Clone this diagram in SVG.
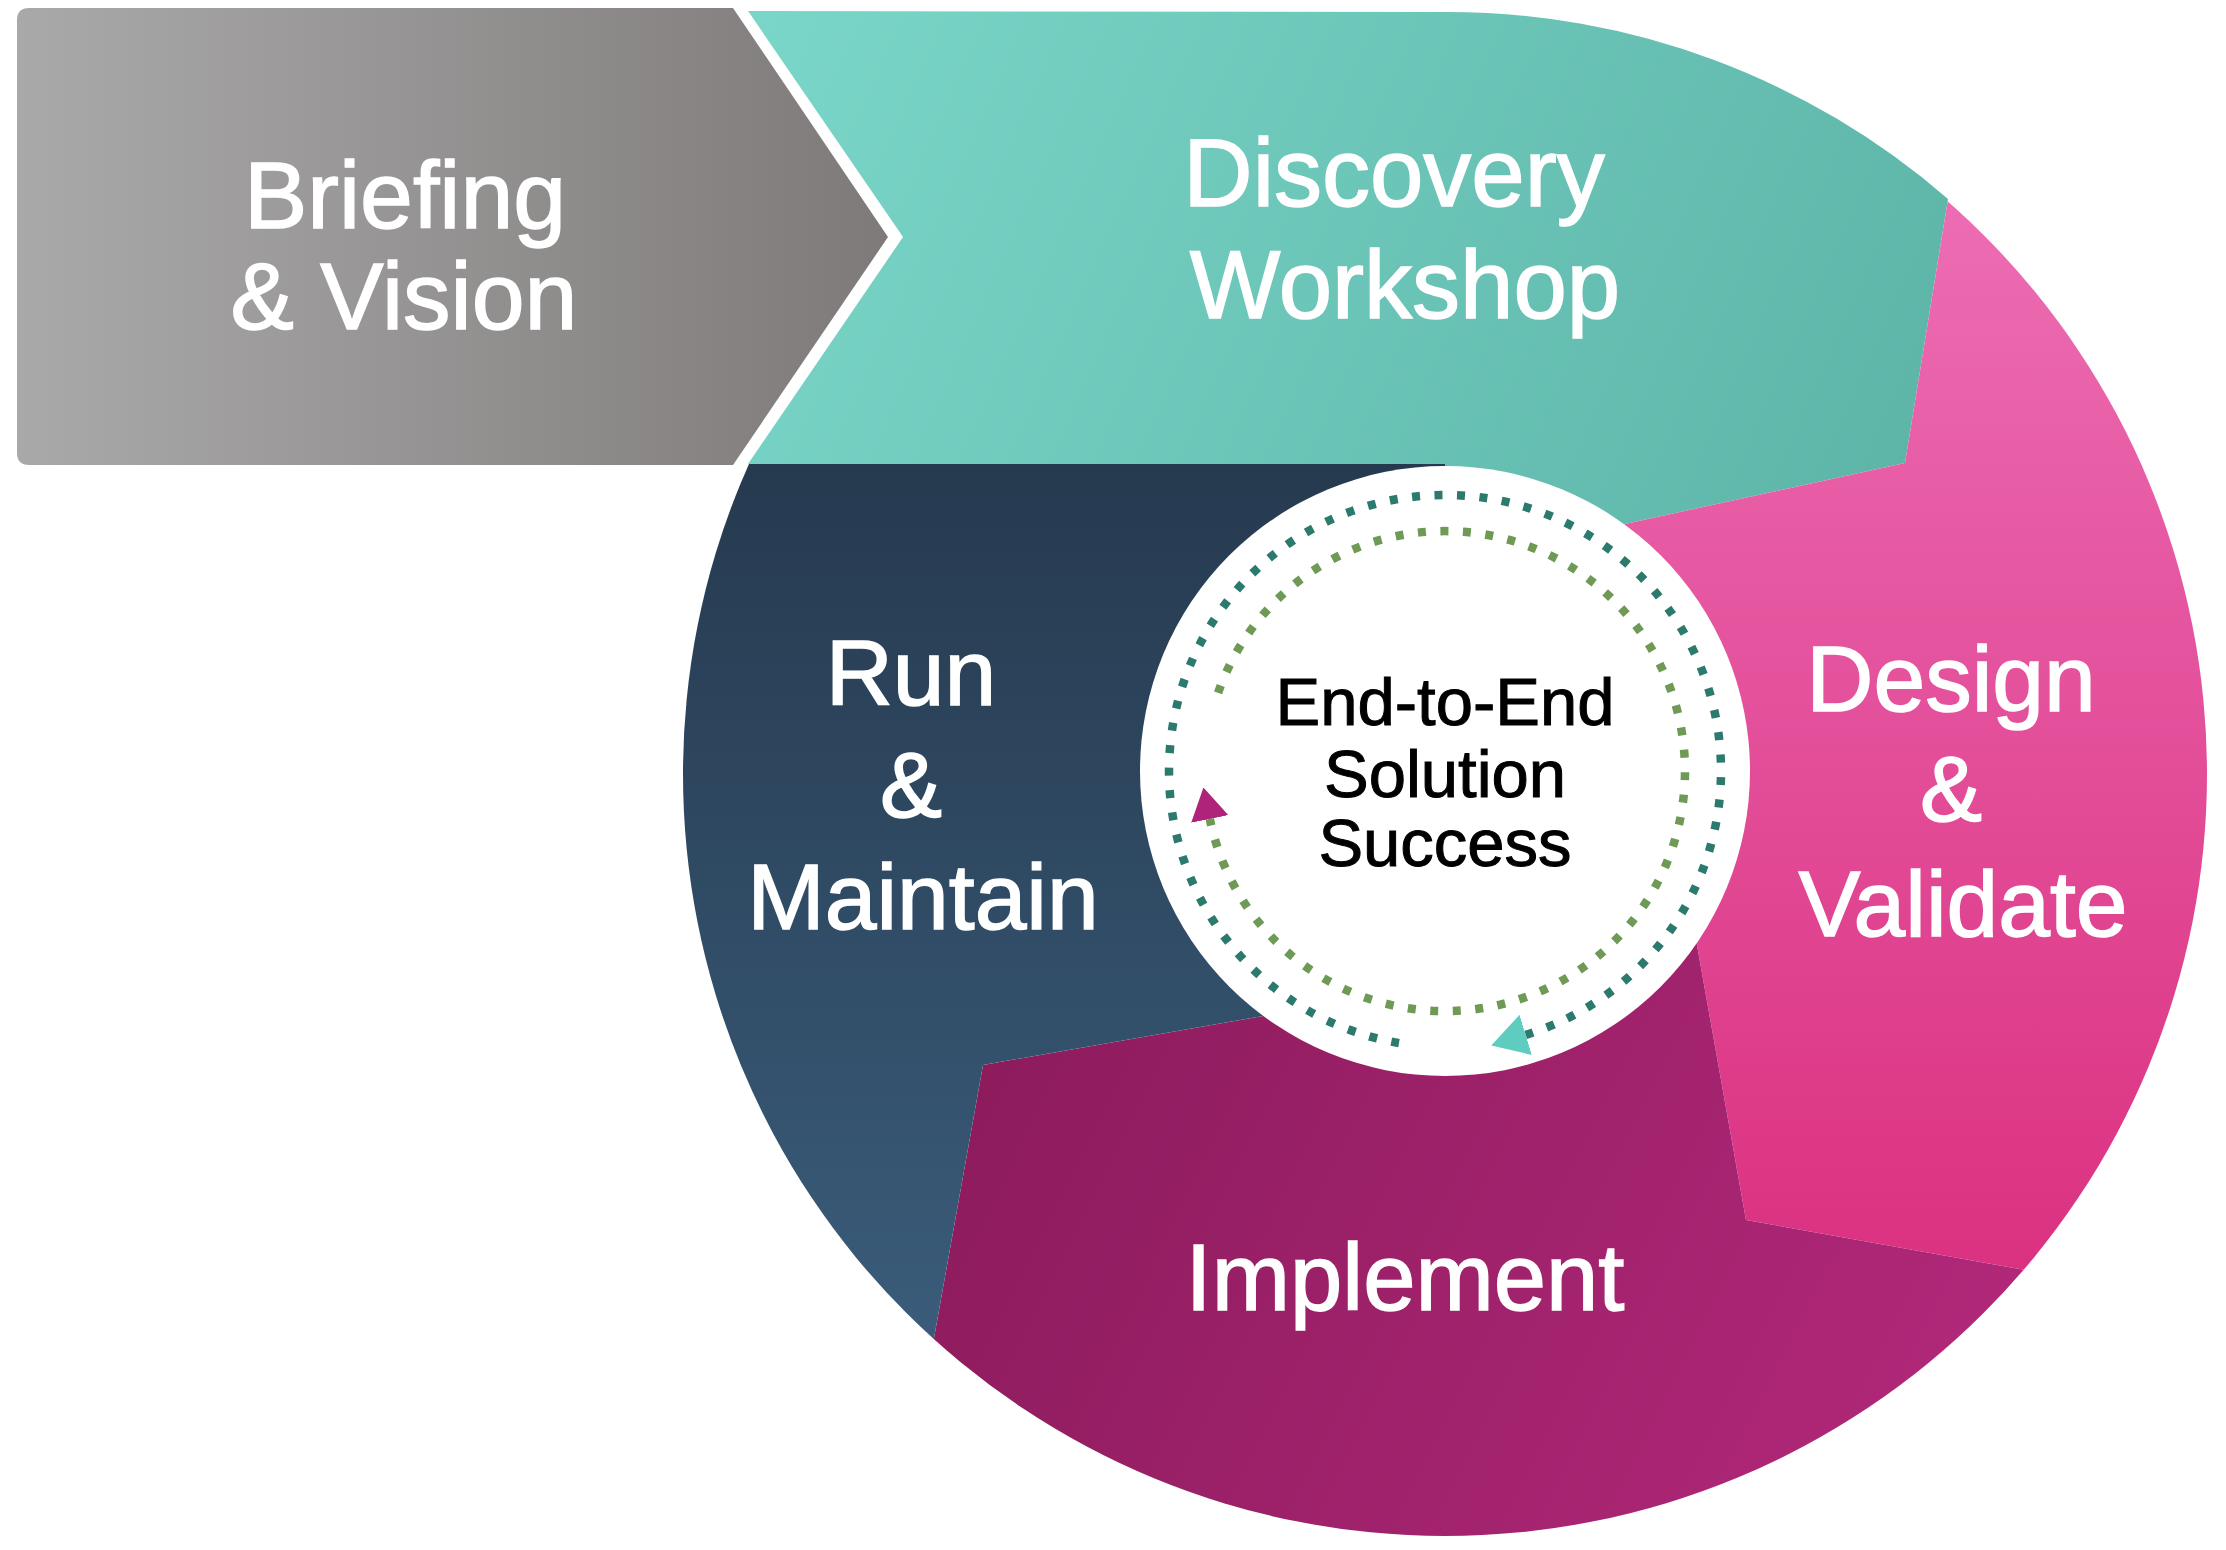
<svg xmlns="http://www.w3.org/2000/svg" width="2226" height="1550" viewBox="0 0 2226 1550">
  <defs>
    <linearGradient id="gGray" gradientUnits="userSpaceOnUse" x1="17" y1="0" x2="888" y2="0">
      <stop offset="0" stop-color="#aaa9aa"/>
      <stop offset="1" stop-color="#7e7a79"/>
    </linearGradient>
    <linearGradient id="gTeal" gradientUnits="userSpaceOnUse" x1="760" y1="10" x2="1900" y2="520">
      <stop offset="0" stop-color="#7ad6c8"/>
      <stop offset="1" stop-color="#5db5a8"/>
    </linearGradient>
    <linearGradient id="gPink" gradientUnits="userSpaceOnUse" x1="0" y1="199" x2="0" y2="1270">
      <stop offset="0" stop-color="#ec6db3"/>
      <stop offset="1" stop-color="#db3181"/>
    </linearGradient>
    <linearGradient id="gPurple" gradientUnits="userSpaceOnUse" x1="950" y1="1000" x2="1950" y2="1500">
      <stop offset="0" stop-color="#8b1b5b"/>
      <stop offset="1" stop-color="#b2287a"/>
    </linearGradient>
    <linearGradient id="gNavy" gradientUnits="userSpaceOnUse" x1="0" y1="464" x2="0" y2="1340">
      <stop offset="0" stop-color="#263a4f"/>
      <stop offset="1" stop-color="#3a5c7a"/>
    </linearGradient>
    <clipPath id="bigCircle">
      <circle cx="1445" cy="774" r="762"/>
    </clipPath>
    <marker id="arrCyan" markerUnits="userSpaceOnUse" markerWidth="36" markerHeight="42" viewBox="0 0 36 42" refX="0" refY="21" orient="auto">
      <path d="M0,0 L36,21 L0,42 Z" fill="#5ecdc0"/>
    </marker>
    <marker id="arrMagenta" markerUnits="userSpaceOnUse" markerWidth="32" markerHeight="38" viewBox="0 0 32 38" refX="0" refY="19" orient="auto">
      <path d="M0,0 L32,19 L0,38 Z" fill="#b0237a"/>
    </marker>
  </defs>
  <style>
    .lbl { font-family: "Liberation Sans", Arial, sans-serif; fill: #ffffff; text-anchor: middle; stroke: #ffffff; stroke-width: 1.5; }
    .ctr { font-family: "Liberation Sans", Arial, sans-serif; fill: #000000; text-anchor: middle; font-size: 67px; stroke: #000000; stroke-width: 1; }
    .ring { fill: none; stroke-width: 8.5; stroke-dasharray: 8 14.5; }
  </style>

  <rect width="2226" height="1550" fill="#ffffff"/>

  <g id="briefing-vision">
    <path d="M29,8 L733,8 L888,237 L733,465 L29,465 Q17,465 17,453 L17,20 Q17,8 29,8 Z" fill="url(#gGray)"/>
    <text class="lbl" font-size="95" x="405" y="228">Briefing</text>
    <text class="lbl" font-size="95" x="404" y="329">&amp; Vision</text>
  </g>

  <g id="discovery-workshop">
    <path d="M748,11 L1445,12 A762,762 0 0,1 1948,199 L1905,463 L1625,524 L1445,771 L1445,464 L748,464 L903,237 Z" fill="url(#gTeal)"/>
    <text class="lbl" font-size="96" x="1394" y="206">Discovery</text>
    <text class="lbl" font-size="96" x="1405" y="318">Workshop</text>
  </g>

  <g id="design-validate">
    <path clip-path="url(#bigCircle)" d="M1948,199 L1905,463 L1625,524 L1445,771 L1680,850 L1746,1220 L2025,1270 L2300,1300 L2300,100 L1960,100 Z" fill="url(#gPink)"/>
    <text class="lbl" font-size="93" x="1951" y="711">Design</text>
    <text class="lbl" font-size="93" x="1951" y="821">&amp;</text>
    <text class="lbl" font-size="93" x="1963" y="936">Validate</text>
  </g>

  <g id="implement">
    <path clip-path="url(#bigCircle)" d="M1445,771 L1680,850 L1746,1220 L2025,1270 L2300,1300 L2300,1600 L900,1600 L934,1338 L983,1065 L1400,992 Z" fill="url(#gPurple)"/>
    <text class="lbl" font-size="94" x="1405" y="1310">Implement</text>
  </g>

  <g id="run-maintain">
    <path clip-path="url(#bigCircle)" d="M600,464 L1445,464 L1445,771 L1400,992 L983,1065 L934,1338 L910,1600 L600,1600 Z" fill="url(#gNavy)"/>
    <text class="lbl" font-size="93" x="911" y="705">Run</text>
    <text class="lbl" font-size="93" x="911" y="817">&amp;</text>
    <text class="lbl" font-size="93" x="923" y="929">Maintain</text>
  </g>

  <g id="solution-success">
    <circle cx="1445" cy="771" r="305" fill="#ffffff"/>
    <text class="ctr" x="1445" y="725">End-to-End</text>
    <text class="ctr" x="1445" y="797">Solution</text>
    <text class="ctr" x="1445" y="866">Success</text>
  </g>

  <g id="connectors">
    <path class="ring" stroke="#2c7a6e" d="M1399.0,1043.1 A276,276 0 1,1 1525.7,1034.9" marker-end="url(#arrCyan)"/>
    <path class="ring" stroke="#6e9a56" d="M1218.1,692.9 A240,240 0 1,1 1209.8,818.9" marker-end="url(#arrMagenta)"/>
  </g>
</svg>
